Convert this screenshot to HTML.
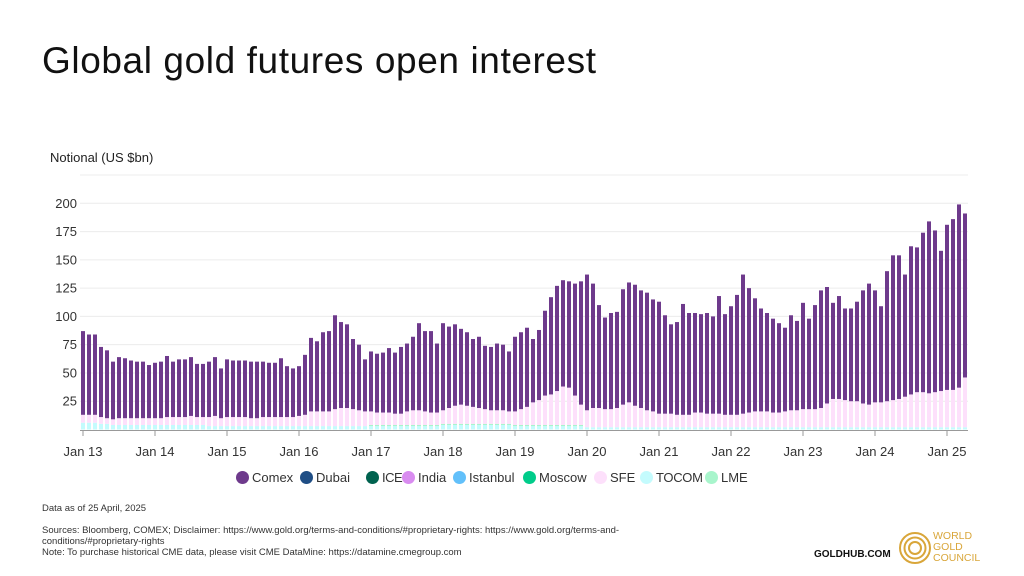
<!DOCTYPE html>
<html><head><meta charset="utf-8">
<style>
body{margin:0;background:#fff;font-family:"Liberation Sans",sans-serif;}
#wrap{position:relative;width:1024px;height:576px;overflow:hidden;background:#fff;}
.t{position:absolute;white-space:nowrap;color:#222;}
.leg{position:absolute;top:469px;height:16px;font-size:13px;color:#333;display:flex;align-items:center;white-space:nowrap;}
.leg i{display:inline-block;width:13px;height:13px;border-radius:50%;margin-right:3px;}
.fn{position:absolute;left:42px;font-size:9.5px;color:#333;white-space:nowrap;line-height:11px;}
</style></head><body>
<div id="wrap">
<div class="t" style="left:42px;top:40px;font-size:37px;letter-spacing:0.6px;color:#111;">Global gold futures open interest</div>
<div class="t" style="left:50px;top:150px;font-size:13px;color:#222;">Notional (US $bn)</div>
<svg id="chart" width="1024" height="576" style="position:absolute;left:0;top:0;"></svg>
<div class="leg" style="left:236px;"><i style="background:#6e3a8c"></i>Comex</div>
<div class="leg" style="left:300px;"><i style="background:#1f4e85"></i>Dubai</div>
<div class="leg" style="left:366px;"><i style="background:#00624f"></i><span style="letter-spacing:-0.5px">ICE</span></div>
<div class="leg" style="left:402px;"><i style="background:#d98cf0"></i>India</div>
<div class="leg" style="left:453px;"><i style="background:#62c0fa"></i>Istanbul</div>
<div class="leg" style="left:523px;"><i style="background:#00cc8a"></i>Moscow</div>
<div class="leg" style="left:594px;"><i style="background:#fde0fb"></i>SFE</div>
<div class="leg" style="left:640px;"><i style="background:#c4fbfd"></i><span style="letter-spacing:-0.3px">TOCOM</span></div>
<div class="leg" style="left:705px;"><i style="background:#a8f5cc"></i>LME</div>
<div class="fn" style="top:503px;">Data as of 25 April, 2025</div>
<div class="fn" style="top:525px;">Sources: Bloomberg, COMEX; Disclaimer: https://www.gold.org/terms-and-conditions/#proprietary-rights: https://www.gold.org/terms-and-<br>conditions/#proprietary-rights<br>Note: To purchase historical CME data, please visit CME DataMine: https://datamine.cmegroup.com</div>
<div class="t" style="left:814px;top:549px;font-size:10px;font-weight:bold;color:#111;">GOLDHUB.COM</div>
<svg width="34" height="34" style="position:absolute;left:898px;top:531px;">
<circle cx="17" cy="17" r="15" fill="none" stroke="#d9a63a" stroke-width="2"/>
<circle cx="17" cy="17" r="10.5" fill="none" stroke="#d9a63a" stroke-width="2"/>
<circle cx="17" cy="17" r="6" fill="none" stroke="#d9a63a" stroke-width="2"/>
</svg>
<div class="t" style="left:933px;top:531px;font-size:10.5px;line-height:11px;color:#d9a63a;">WORLD<br>GOLD<br>COUNCIL</div>
</div>
<script>
const yTicks=[25,50,75,100,125,150,175,200];
const xTickLabels=["Jan 13","Jan 14","Jan 15","Jan 16","Jan 17","Jan 18","Jan 19","Jan 20","Jan 21","Jan 22","Jan 23","Jan 24","Jan 25"];
const comex=[74,71,71,62,60,51,54,53,51,50,50,47,
49,50,54,49,51,51,52,47,47,49,52,44,
51,50,50,50,50,50,49,48,48,52,45,43,
44,53,65,62,70,71,83,76,74,62,58,46,
53,52,53,57,54,59,60,65,77,71,72,61,
77,72,72,67,65,60,63,56,56,59,58,53,
66,68,70,56,62,75,86,93,94,94,99,109,
120,110,91,81,85,85,102,106,107,104,104,99,
99,87,79,82,98,90,88,87,89,86,104,89,
96,106,123,110,100,91,87,83,79,74,84,79,
94,80,92,104,103,85,91,81,82,88,100,107,
99,85,115,128,127,108,131,128,141,152,143,124,
146,151,162,145];
const sfe=[7,7,7,6,5,5,6,6,6,6,6,6,
6,6,7,7,7,7,8,7,7,8,9,7,
8,8,8,8,7,7,8,8,8,8,8,8,
9,10,13,13,13,13,15,16,16,15,14,13,
12,11,11,11,10,10,12,13,13,12,11,11,
12,14,16,17,16,15,14,13,12,12,12,11,
12,14,16,20,22,26,27,30,34,33,26,18,
15,17,17,16,16,17,20,22,19,17,15,14,
12,12,12,11,11,11,13,13,12,12,12,11,
11,11,12,13,14,14,14,13,13,14,15,15,
16,16,16,17,21,25,25,24,23,23,21,20,
22,22,23,24,25,27,29,31,31,30,31,32,
33,33,35,44];
const tocom=[6,6,6,5,5,4,4,4,4,4,4,4,
4,4,4,4,4,4,4,4,4,3,3,3,
3,3,3,3,3,3,3,3,3,3,3,3,
3,3,3,3,3,3,3,3,3,3,3,3,
3,3,3,3,3,3,3,3,3,3,3,3,
4,4,4,4,4,4,4,4,4,4,4,4,
3,3,3,3,3,3,3,3,3,3,3,3,
2,2,2,2,2,2,2,2,2,2,2,2,
2,2,2,2,2,2,2,2,2,2,2,2,
2,2,2,2,2,2,2,2,2,2,2,2,
2,2,2,2,2,2,2,2,2,2,2,2,
2,2,2,2,2,2,2,2,2,2,2,2,
2,2,2,2];
const lme=[0,0,0,0,0,0,0,0,0,0,0,0,
0,0,0,0,0,0,0,0,0,0,0,0,
0,0,0,0,0,0,0,0,0,0,0,0,
0,0,0,0,0,0,0,0,0,0,0,0,
1,1,1,1,1,1,1,1,1,1,1,1,
1,1,1,1,1,1,1,1,1,1,1,1,
1,1,1,1,1,1,1,1,1,1,1,1,
0,0,0,0,0,0,0,0,0,0,0,0,
0,0,0,0,0,0,0,0,0,0,0,0,
0,0,0,0,0,0,0,0,0,0,0,0,
0,0,0,0,0,0,0,0,0,0,0,0,
0,0,0,0,0,0,0,0,0,0,0,0,
0,0,0,0];

const NS='http://www.w3.org/2000/svg';
const svg=document.getElementById('chart');
const X0=83, STEP=6, Y0=429.5, KY=1.131, BW=4;
const xPos=i=>X0+i*STEP;
const yPos=v=>Y0-v*KY;
function mk(tag,attrs){const e=document.createElementNS(NS,tag);for(const k in attrs)e.setAttribute(k,attrs[k]);svg.appendChild(e);return e;}

yTicks.forEach(v=>{
  const g=mk('line',{x1:80,x2:968,y1:yPos(v),y2:yPos(v),stroke:'#ececec','stroke-width':1});
  
  
  const t=mk('text',{x:77,y:yPos(v)+4.5,'text-anchor':'end','font-size':13,fill:'#333','font-family':'Liberation Sans, sans-serif'});
  t.textContent=v;
  
  
});
{const g=mk('line',{x1:80,x2:968,y1:yPos(225),y2:yPos(225),stroke:'#ececec','stroke-width':1});

}

const series=[[tocom,'#c4fbfd','tocom'],[lme,'#a8f5cc','lme'],[sfe,'#fde0fb','sfe'],[comex,'#6e3a8c','comex']];
for(let i=0;i<comex.length;i++){
  let base=0;
  series.forEach(([arr,col,name])=>{
    const v=arr[i]; if(!v){return;}
    const r=mk('rect',{x:xPos(i)-BW/2,y:yPos(base+v),width:BW,height:v*KY,fill:col});
    
    
    base+=v;
  });
}
const ax=mk('line',{x1:80,x2:968,y1:430.5,y2:430.5,stroke:'#999','stroke-width':1});


xTickLabels.forEach((lab,k)=>{
  const x=xPos(k*12);
  const tk=mk('line',{x1:x,x2:x,y1:430,y2:436,stroke:'#999','stroke-width':1});
  
  
  const t=mk('text',{x:x,y:456,'text-anchor':'middle','font-size':13,fill:'#333','font-family':'Liberation Sans, sans-serif'});
  t.textContent=lab;
  
  
});
</script>
</body></html>
